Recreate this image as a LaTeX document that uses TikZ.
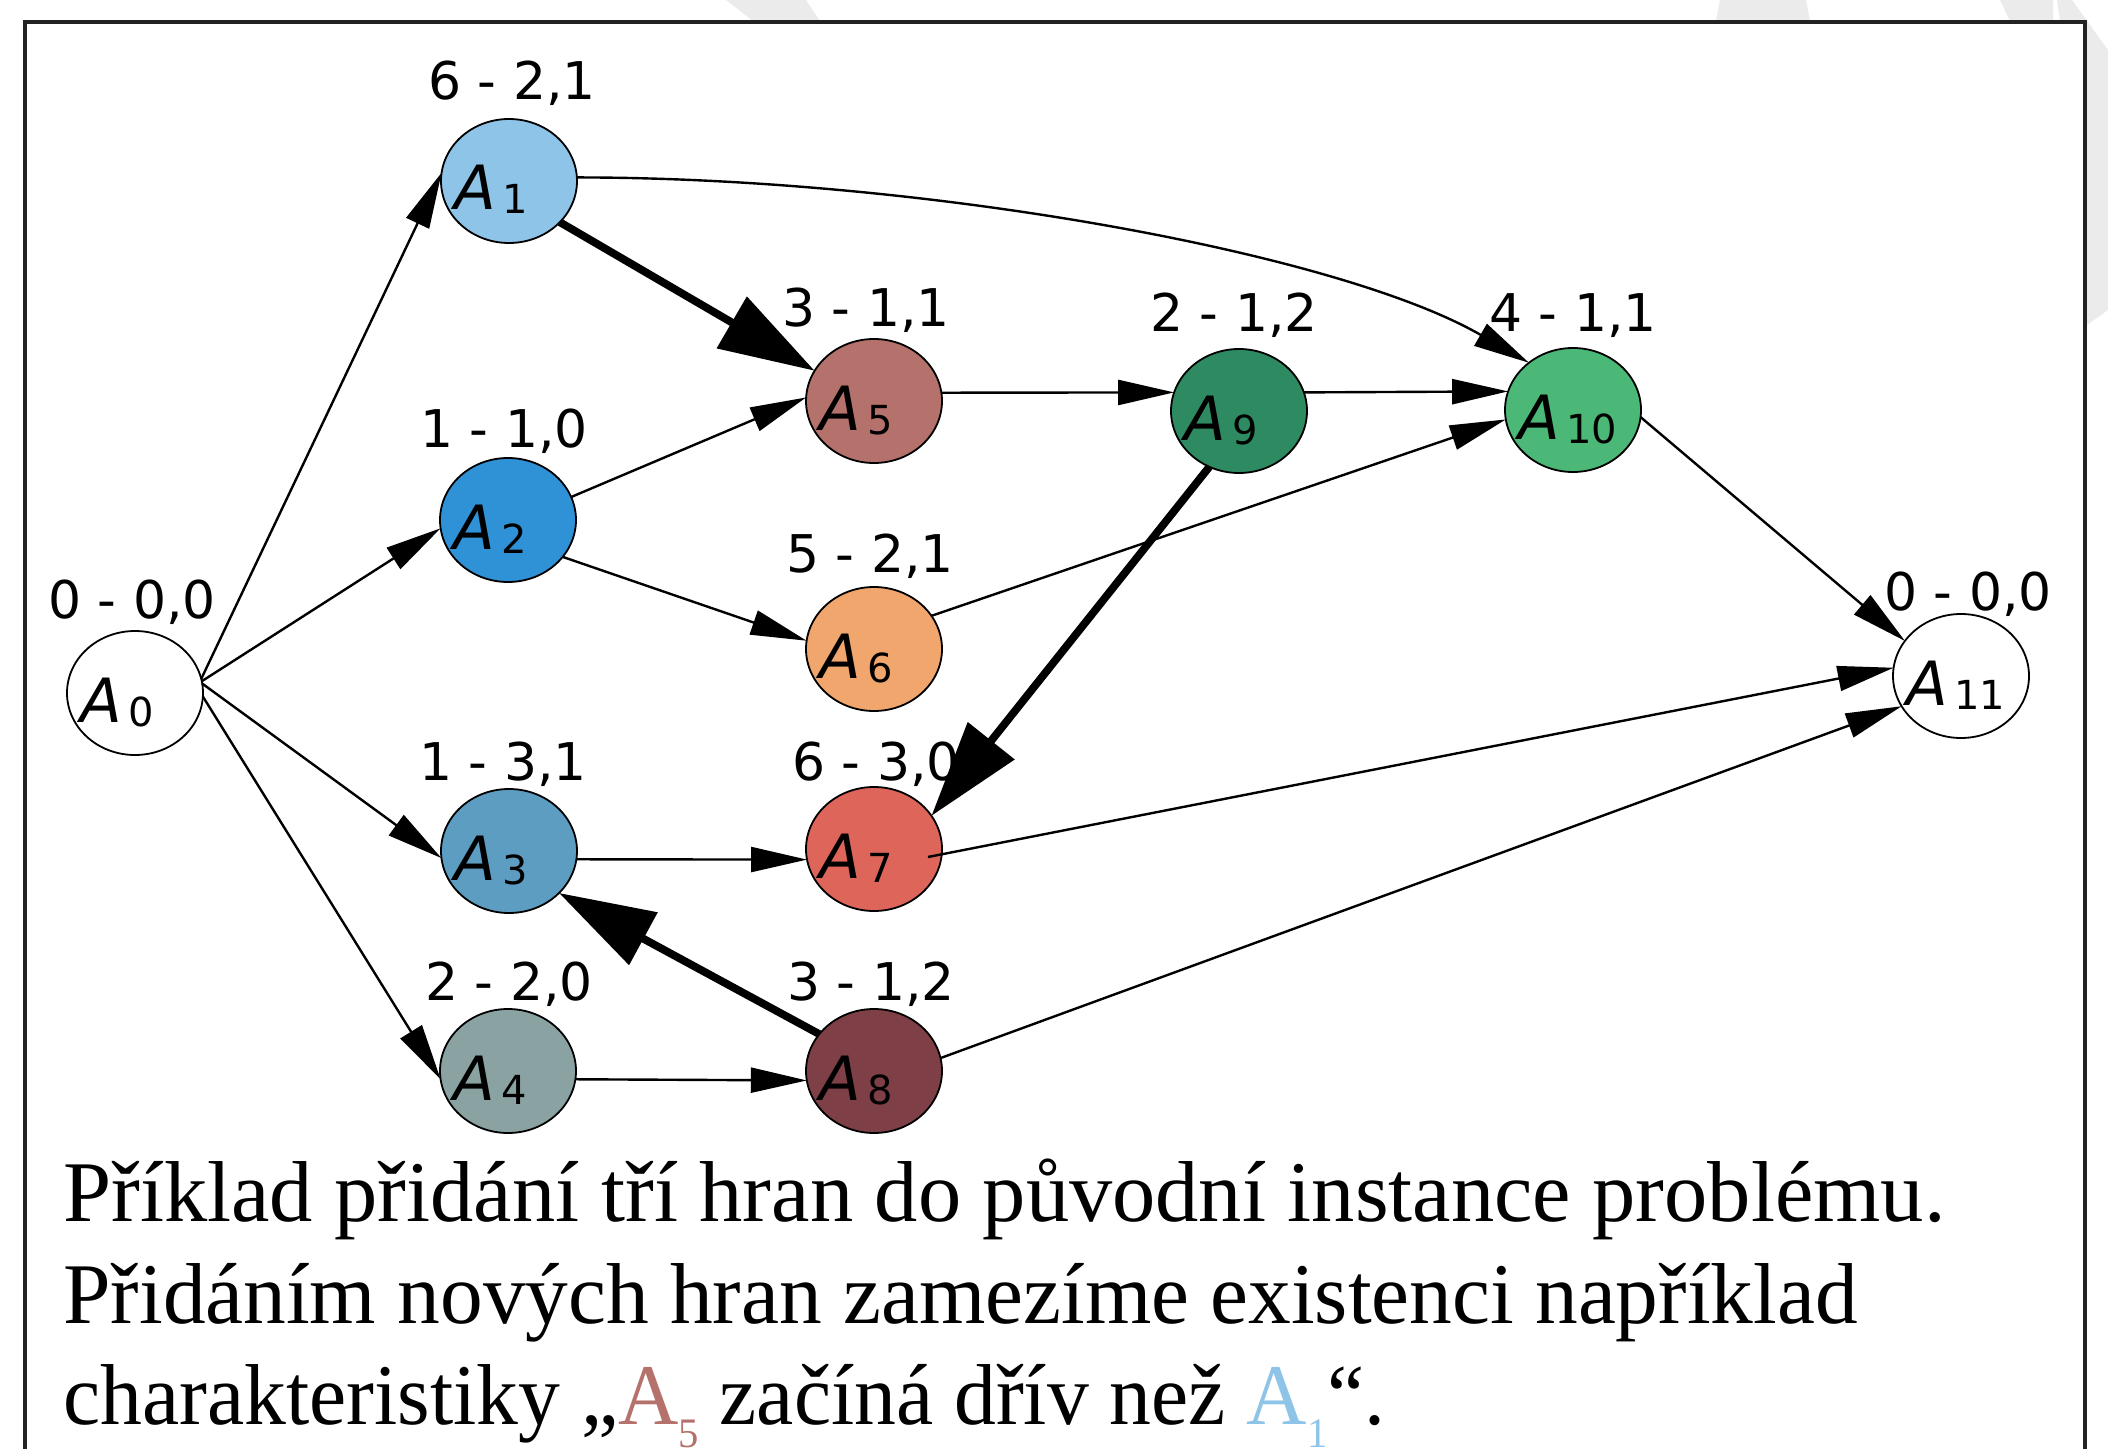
\documentclass[tikz,border=0pt]{standalone}
\usepackage{fontspec}
\setmainfont{Liberation Serif}
\newfontfamily\lblfont{DejaVu Sans}
\usetikzlibrary{shapes.geometric,arrows.meta,calc}

\definecolor{cA1}{HTML}{8EC4E8}
\definecolor{cA2}{HTML}{2F91D6}
\definecolor{cA3}{HTML}{5E9DC2}
\definecolor{cA4}{HTML}{8AA2A2}
\definecolor{cA5}{HTML}{B5716B}
\definecolor{cA6}{HTML}{F1A66D}
\definecolor{cA7}{HTML}{DD655A}
\definecolor{cA8}{HTML}{7E3F46}
\definecolor{cA9}{HTML}{2E8A60}
\definecolor{cA10}{HTML}{4BB878}
\definecolor{pagegray}{HTML}{EBEBEB}
\definecolor{framecol}{HTML}{222222}

\newlength\capw
% node name: italic A with a lowered upright index
\newcommand\tname[1]{{\itshape A}\kern3pt\raisebox{-2pt}{\fontsize{20pt}{20pt}\selectfont #1}}
% coloured A with a deep index inside the caption
\newcommand\capA[2]{{\color{#1}A\raisebox{-11.5pt}{\fontsize{21pt}{21pt}\selectfont #2}}}
% one caption line stretched horizontally to a given width
\newcommand\capline[2]{\resizebox{#1}{\height}{#2}}

\begin{document}
% caption size chosen so that the first line spans the frame
\settowidth\capw{\fontsize{40pt}{40pt}\selectfont Příklad přidání tří hran do původní instance problému.}
\pgfmathsetmacro\capfs{941/\capw*40}
\begin{tikzpicture}[x=0.5pt,y=-0.5pt,
  task/.style={ellipse, draw=black, line width=0.9pt, minimum width=68pt,
    minimum height=62pt, inner sep=0pt, outer sep=0pt},
  edge/.style={line width=1.2pt, -{Triangle[length=28pt,width=12.5pt]}},
  hard/.style={line width=3.9pt, -{Triangle[length=48pt,width=29pt]}},
  num/.style={font={\lblfont\fontsize{26pt}{26pt}\selectfont}, inner sep=0pt, anchor=base},
  tlabel/.style={font={\lblfont\fontsize{30.5pt}{30.5pt}\selectfont}, inner sep=0pt, anchor=base west},
  captext/.style={inner sep=0pt, anchor=base west, font={\fontsize{\capfs pt}{\capfs pt}\selectfont}}]

\useasboundingbox (0,0) rectangle (2108,1449);

% light page shapes outside the frame
\fill[pagegray] (726,0) -- (806,0) -- (820,21) -- (753,21) -- cycle;
\fill[pagegray] (1720,0) -- (1806,0) -- (1810,21) -- (1716,21) -- cycle;
\fill[pagegray] (2000,0) -- (2053,0) -- (2053,21) -- (2010,21) -- cycle;
\fill[pagegray] (2057,0) -- (2072,0) -- (2108,50) -- (2108,310) -- (2087,325) -- (2087,21) -- (2060,21) -- cycle;

% frame
\draw[framecol, line width=1.6pt] (25,1449) -- (25,22) -- (2085,22) -- (2085,1449);

% tasks
\node[task, fill=white] (A0)  at (135,693)  {};
\node[task, fill=cA1]   (A1)  at (509,181)  {};
\node[task, fill=cA2]   (A2)  at (508,520)  {};
\node[task, fill=cA3]   (A3)  at (509,851)  {};
\node[task, fill=cA4]   (A4)  at (508,1071) {};
\node[task, fill=cA5]   (A5)  at (874,401)  {};
\node[task, fill=cA6]   (A6)  at (874,649)  {};
\node[task, fill=cA7]   (A7)  at (874,849)  {};
\node[task, fill=cA8]   (A8)  at (874,1071) {};
\node[task, fill=cA9]   (A9)  at (1239,411) {};
\node[task, fill=cA10]  (A10) at (1573,410) {};
\node[task, fill=white] (A11) at (1961,676) {};

% precedence edges
\draw[edge] (A0.12) -- (A1.173);
\draw[edge] (A0.10) -- (A2.187);
\draw[edge] (A0.8)  -- (A3.186);
\draw[edge] (A0.-3) -- (A4.187);
\draw[edge] (A1.3) to[out=0, in=150, out looseness=0.92, in looseness=0.58] (A10.133);
\draw[edge] (A2.20)  -- (A5.177);
\draw[edge] (A2.-34) -- (A6.173);
\draw[edge] (A3.-7)  -- (A7.189);
\draw[edge] (A4.-7)  -- (A8.188);
\draw[edge] (A5.7)   -- (A9.164);
\draw[edge] (A9.16)  -- (A10.164);
\draw[edge] (A6.30)  -- (A10.188);
\draw[edge] (A10.-6) -- (A11.148);
\draw[edge] ($(A7.center)+(54,8)$) -- (A11.173);
\draw[edge] (A8.11)  -- (A11.207);

% added edges
\draw[hard] (A1.-39) -- (A5.153);
\draw[hard] (A9.242) -- (A7.30);
\draw[hard] (A8.146) -- (A3.-40);

% task names
\foreach \i in {0,...,11}{
  \node[tlabel] (t\i) at ($(A\i.center)+(-55,29)$) {\tname{\i}};
}

% task values
\node[num] (n0)  at (132,618)  {0 - 0,0};
\node[num] (n1)  at (512,100)  {6 - 2,1};
\node[num] (n2)  at (504,447)  {1 - 1,0};
\node[num] (n3)  at (503,780)  {1 - 3,1};
\node[num] (n4)  at (509,1000) {2 - 2,0};
\node[num] (n5)  at (866,327)  {3 - 1,1};
\node[num] (n6)  at (870,572)  {5 - 2,1};
\node[num] (n7)  at (876,780)  {6 - 3,0};
\node[num] (n8)  at (871,1000) {3 - 1,2};
\node[num] (n9)  at (1234,332) {2 - 1,2};
\node[num] (n10) at (1573,332) {4 - 1,1};
\node[num] (n11) at (1968,610) {0 - 0,0};

% caption
\node[captext] (c1) at (63,1221) {Příklad přidání tří hran do původní instance problému.};
\node[captext] (c2) at (63,1323) {\capline{897pt}{Přidáním nových hran zamezíme existenci například}};
\node[captext] (c3) at (63,1424) {\capline{661pt}{charakteristiky „\capA{cA5}{5} začíná dřív než \capA{cA1}{1}“.}};
\end{tikzpicture}
\end{document}
